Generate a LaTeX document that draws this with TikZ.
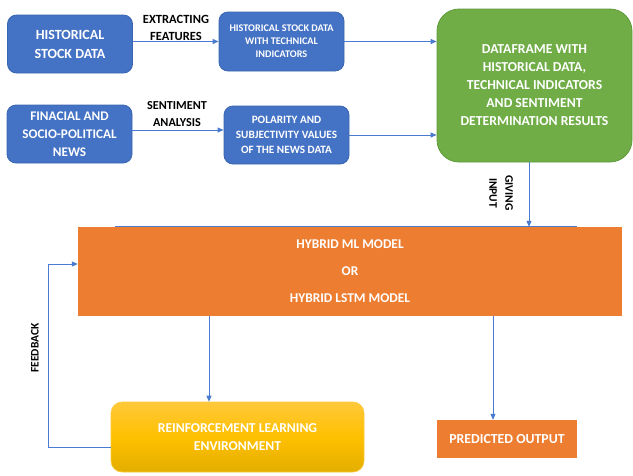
\documentclass[tikz,border=0pt]{standalone}
\usepackage{fontspec}
\setmainfont{Carlito}[BoldFont={Carlito Bold}]
\usetikzlibrary{arrows.meta,calc}
\definecolor{bluebox}{HTML}{4472C4}
\definecolor{blueedge}{HTML}{3A65B0}
\definecolor{arrowc}{HTML}{4A7BD0}
\definecolor{greenbox}{HTML}{70AD47}
\definecolor{greenedge}{HTML}{5E9A3A}
\definecolor{orangebox}{HTML}{ED7D31}
\definecolor{yelltop}{HTML}{FFC83A}
\definecolor{yellmid}{HTML}{FFC000}
\definecolor{yellbot}{HTML}{E3AE00}
\tikzset{
  bluenode/.style={draw=blueedge, line width=0.8pt, fill=bluebox, rounded corners=9pt, text=white, align=center, inner sep=0pt},
  conn/.style={draw=arrowc, line width=1pt, -{Triangle[length=6pt,width=5pt]}},
  lbl/.style={text=black, align=center, inner sep=0pt}
}
\begin{document}
\begin{tikzpicture}[x=1pt,y=-1pt]
\useasboundingbox (0,0) rectangle (633,475);
% top boxes
\node[bluenode, minimum width=125pt, minimum height=58pt, font=\bfseries\fontsize{14}{19}\selectfont] (hsd) at (70,44) {HISTORICAL\\STOCK DATA};
\node[bluenode, minimum width=125pt, minimum height=59pt, font=\bfseries\fontsize{10.2}{13}\selectfont] (hti) at (281.5,41.5) {HISTORICAL STOCK DATA\\WITH TECHNICAL\\INDICATORS};
\node[bluenode, minimum width=125pt, minimum height=58pt, font=\bfseries\fontsize{13.2}{18}\selectfont] (news) at (69.5,134) {FINACIAL AND\\SOCIO-POLITICAL\\NEWS};
\node[bluenode, minimum width=125pt, minimum height=58pt, font=\bfseries\fontsize{11.2}{15}\selectfont] (pol) at (286.5,135) {POLARITY AND\\SUBJECTIVITY VALUES\\OF THE NEWS DATA};
\node[draw=greenedge, line width=0.8pt, fill=greenbox, rounded corners=22pt, text=white, align=center, inner sep=0pt, minimum width=195pt, minimum height=153pt, font=\bfseries\fontsize{13.7}{18}\selectfont] (df) at (534.5,85.5) {DATAFRAME WITH\\HISTORICAL DATA,\\TECHNICAL INDICATORS\\AND SENTIMENT\\DETERMINATION RESULTS};
% model
\draw[arrowc, line width=0.8pt] (115,226) -- (577,226);
\node[fill=orangebox, text=white, align=center, inner sep=0pt, minimum width=544pt, minimum height=89pt, font=\bfseries\fontsize{13.4}{27}\selectfont] (model) at (350,271.5) {HYBRID ML MODEL\\OR\\HYBRID LSTM MODEL};
\node[rounded corners=11pt, top color=yelltop, bottom color=yellbot, middle color=yellmid, draw=yelltop, line width=0.6pt, text=white, align=center, inner sep=0pt, minimum width=253pt, minimum height=70pt, font=\bfseries\fontsize{13.6}{18}\selectfont] (rl) at (237.5,437) {REINFORCEMENT LEARNING\\ENVIRONMENT};
\node[fill=orangebox, text=white, align=center, inner sep=0pt, minimum width=140pt, minimum height=38pt, font=\bfseries\fontsize{13.8}{16}\selectfont] (pred) at (507,439) {PREDICTED OUTPUT};
% connectors
\draw[conn] (hsd.east |- hti.west) -- (hti.west);
\draw[conn] (hti.east) -- (hti.east -| df.west);
\draw[conn] ([yshift=4pt]news.east) -- ([yshift=4pt]news.east -| pol.west);
\draw[conn] (pol.east) -- (pol.east -| df.west);
\draw[conn] ([xshift=-5.5pt]df.south) -- ([xshift=-5.5pt]df.south |- model.north);
\draw[conn] ([xshift=-28.5pt]rl.north |- model.south) -- ([xshift=-28.5pt]rl.north);
\draw[conn] ([xshift=-14pt]pred.north |- model.south) -- ([xshift=-14pt]pred.north);
\coordinate (fb) at (48,447);
\draw[conn] (rl.west |- fb) -- (fb) |- ([yshift=7.5pt]model.west);
% labels
\node[lbl, font=\bfseries\fontsize{12.5}{17}\selectfont] (l1) at (176,28) {EXTRACTING\\FEATURES};
\node[lbl, font=\bfseries\fontsize{12.2}{17}\selectfont] (l2) at (177,114) {SENTIMENT\\ANALYSIS};
\node[lbl, rotate=-90, font=\bfseries\fontsize{11.5}{16}\selectfont] (l3) at (501,193) {GIVING\\INPUT};
\node[lbl, rotate=90, font=\bfseries\fontsize{11.5}{14}\selectfont] (l4) at (35,348) {FEEDBACK};
\end{tikzpicture}
\end{document}
